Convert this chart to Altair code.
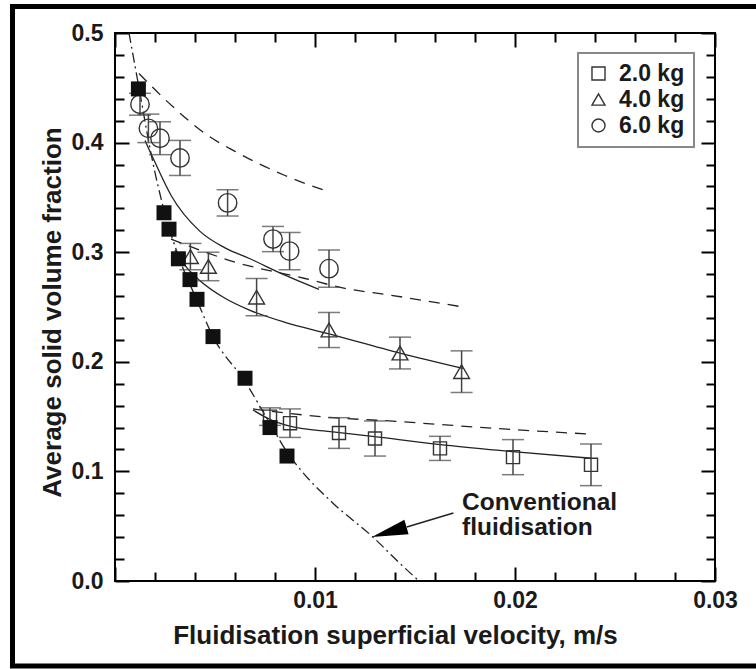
import altair as alt
import pandas as pd

# ---------------- data ----------------
series_names = ["2.0 kg", "4.0 kg", "6.0 kg"]

kg2_x = [0.00775, 0.00875, 0.0112, 0.0130, 0.01625, 0.0199, 0.0238]
kg2_y = [0.150, 0.144, 0.135, 0.130, 0.121, 0.113, 0.106]
kg2_e = [0.008, 0.013, 0.014, 0.016, 0.011, 0.016, 0.019]

kg4_x = [0.00377, 0.00467, 0.00708, 0.0107, 0.01425, 0.01733]
kg4_y = [0.296, 0.287, 0.259, 0.229, 0.208, 0.191]
kg4_e = [0.012, 0.013, 0.017, 0.016, 0.0145, 0.019]

kg6_x = [0.00125, 0.00167, 0.00225, 0.00325, 0.00563, 0.0079, 0.00873, 0.0107]
kg6_y = [0.435, 0.413, 0.404, 0.386, 0.345, 0.312, 0.301, 0.285]
kg6_e = [0.010, 0.013, 0.015, 0.016, 0.012, 0.0115, 0.017, 0.017]

conv_x = [0.00117, 0.00245, 0.0027, 0.00317, 0.00375, 0.0041, 0.0049, 0.0065, 0.00775, 0.0086]
conv_y = [0.449, 0.336, 0.321, 0.294, 0.275, 0.257, 0.223, 0.185, 0.140, 0.114]

conv_curve_x = [0.0007, 0.0012, 0.0018, 0.0025, 0.0032, 0.0041, 0.0049, 0.0065, 0.0078,
                0.0087, 0.0093, 0.0109, 0.0129, 0.01425, 0.0152]
conv_curve_y = [0.500, 0.450, 0.390, 0.335, 0.295, 0.256, 0.223, 0.182, 0.142,
                0.115, 0.101, 0.071, 0.040, 0.016, 0.0]

fit6_x = [0.0015, 0.0020, 0.0028, 0.00425, 0.0055, 0.00675, 0.0085, 0.0102]
fit6_y = [0.402, 0.382, 0.352, 0.319, 0.304, 0.294, 0.279, 0.266]
fit4_x = [0.0030, 0.0035, 0.00425, 0.0055, 0.00675, 0.0085, 0.0106, 0.01425, 0.0174]
fit4_y = [0.302, 0.288, 0.274, 0.258, 0.247, 0.236, 0.226, 0.208, 0.194]
fit2_x = [0.0069, 0.0078, 0.0088, 0.0109, 0.0133, 0.0165, 0.0199, 0.0238]
fit2_y = [0.156, 0.147, 0.141, 0.136, 0.131, 0.124, 0.118, 0.112]

model6_x = [0.0012, 0.0027, 0.0046, 0.0060, 0.0085, 0.0107]
model6_y = [0.463, 0.436, 0.407, 0.392, 0.370, 0.355]
model4_x = [0.0028, 0.0060, 0.0095, 0.0115, 0.0137, 0.0174]
model4_y = [0.312, 0.291, 0.276, 0.267, 0.261, 0.250]
model2_x = [0.0069, 0.0109, 0.0133, 0.0196, 0.0238]
model2_y = [0.157, 0.149, 0.1465, 0.1385, 0.134]

note_text = ["Conventional", "fluidisation"]
note_x = [0.01735, 0.01735]
note_y = [0.0646, 0.0417]
arrow_x = [0.01692]
arrow_x2 = [0.01459]
arrow_y = [0.0621]
arrow_y2 = [0.0493]
head_x = [0.01371]
head_y = [0.0447]

x_label_vals = [0.01, 0.02, 0.03]
y_label_vals = [0.0, 0.1, 0.2, 0.3, 0.4, 0.5]
x_major_vals = [0.0, 0.01, 0.02, 0.03]
x_minor_vals = [0.002, 0.004, 0.006, 0.008, 0.012, 0.014, 0.016, 0.018,
                0.022, 0.024, 0.026, 0.028]
y_major_vals = [0.0, 0.1, 0.2, 0.3, 0.4, 0.5]
y_minor_vals = [0.02, 0.04, 0.06, 0.08, 0.12, 0.14, 0.16, 0.18, 0.22, 0.24, 0.26, 0.28,
                0.32, 0.34, 0.36, 0.38, 0.42, 0.44, 0.46, 0.48]

x_title = "Fluidisation superficial velocity, m/s"
y_title = "Average solid volume fraction"

# ---------------- tables ----------------
pts = pd.concat([
    pd.DataFrame({"series": series_names[0], "x": kg2_x, "y": kg2_y, "e": kg2_e}),
    pd.DataFrame({"series": series_names[1], "x": kg4_x, "y": kg4_y, "e": kg4_e}),
    pd.DataFrame({"series": series_names[2], "x": kg6_x, "y": kg6_y, "e": kg6_e}),
], ignore_index=True)
conv = pd.DataFrame({"x": conv_x, "y": conv_y})
conv_curve = pd.DataFrame({"x": conv_curve_x, "y": conv_curve_y})
fits = pd.concat([
    pd.DataFrame({"curve": "fit6", "x": fit6_x, "y": fit6_y}),
    pd.DataFrame({"curve": "fit4", "x": fit4_x, "y": fit4_y}),
    pd.DataFrame({"curve": "fit2", "x": fit2_x, "y": fit2_y}),
], ignore_index=True)
models = pd.concat([
    pd.DataFrame({"curve": "m6", "x": model6_x, "y": model6_y}),
    pd.DataFrame({"curve": "m4", "x": model4_x, "y": model4_y}),
    pd.DataFrame({"curve": "m2", "x": model2_x, "y": model2_y}),
], ignore_index=True)
note = pd.DataFrame({"t": note_text, "x": note_x, "y": note_y})
arrow = pd.DataFrame({"x": arrow_x, "x2": arrow_x2, "y": arrow_y, "y2": arrow_y2})
head = pd.DataFrame({"x": head_x, "y": head_y})

# ---------------- styling ----------------
W, H = 600, 548
FONT = "Liberation Sans"
TXT = "#1a1a1a"
xs = alt.Scale(domain=[0, 0.03], nice=False, zero=False)
ys = alt.Scale(domain=[0, 0.5], nice=False, zero=False)

x_label_axis = alt.Axis(orient="bottom", values=x_label_vals, format=".2f", ticks=False, tickSize=0,
                        domain=False, grid=False, labelFlush=False, labelOverlap=False,
                        labelFont=FONT, labelFontSize=23, labelFontWeight="bold", labelColor=TXT,
                        labelPadding=8, title=x_title, titleFont=FONT, titleFontSize=26,
                        titleFontWeight="bold", titleColor=TXT, titlePadding=10, titleX=280)
y_label_axis = alt.Axis(orient="left", values=y_label_vals, format=".1f", ticks=False, tickSize=0,
                        domain=False, grid=False, labelOverlap=False,
                        labelFont=FONT, labelFontSize=23, labelFontWeight="bold", labelColor=TXT,
                        labelPadding=12, title=y_title, titleFont=FONT, titleFontSize=26,
                        titleFontWeight="bold", titleColor=TXT, titlePadding=6, titleY=279)


def tick_axis(orient, vals, length):
    # tick-only axis; a negative tick length (given as an expression) points the ticks inward
    return alt.Axis(orient=orient, values=vals, labels=False, domain=False, grid=False,
                    title=None, ticks=True, tickColor="black", tickWidth=2,
                    tickSize={"expr": str(-length)})


MAJ, MIN = 14, 9
ax_bottom_major = tick_axis("bottom", x_major_vals, MAJ)
ax_bottom_minor = tick_axis("bottom", x_minor_vals, MIN)
ax_top_major = tick_axis("top", x_major_vals, MAJ)
ax_top_minor = tick_axis("top", x_minor_vals, MIN)
ax_left_major = tick_axis("left", y_major_vals, MAJ)
ax_left_minor = tick_axis("left", y_minor_vals, MIN)
ax_right_major = tick_axis("right", y_major_vals, MAJ)
ax_right_minor = tick_axis("right", y_minor_vals, MIN)


def X(field="x", axis=None):
    return alt.X(field, type="quantitative", scale=xs, axis=axis)


def Y(field="y", axis=None):
    return alt.Y(field, type="quantitative", scale=ys, axis=axis)


# outer figure frame (decoration)
frame = alt.Chart(pd.DataFrame({"k": [0]})).mark_rect(
    fill="white", fillOpacity=0, stroke="black", strokeWidth=5
).encode(x=alt.value(-102.5), x2=alt.value(660), y=alt.value(-26.5), y2=alt.value(633))

conv_line = alt.Chart(conv_curve).mark_line(
    color="#222", strokeWidth=1.3, strokeDash=[10, 4, 2, 4], interpolate="monotone"
).encode(x=X("x", ax_bottom_major), y=Y("y", ax_left_major))

fit_lines = alt.Chart(fits).mark_line(color="#222", strokeWidth=1.3, interpolate="monotone").encode(
    x=X("x", ax_bottom_minor), y=Y("y", ax_left_minor), detail="curve:N")

model_lines = alt.Chart(models).mark_line(
    color="#222", strokeWidth=1.3, strokeDash=[11, 8], interpolate="monotone"
).encode(x=X("x", ax_top_major), y=Y("y", ax_right_major), detail="curve:N")

err_base = alt.Chart(pts).transform_calculate(lo="datum.y - datum.e", hi="datum.y + datum.e")
err_rule = err_base.mark_rule(color="#444", strokeWidth=1.5).encode(x=X(), y=Y("lo"), y2="hi:Q")
err_lo = err_base.mark_tick(orient="horizontal", size=22, thickness=1.5, color="#444").encode(
    x=X(), y=Y("lo"))
err_hi = err_base.mark_tick(orient="horizontal", size=22, thickness=1.5, color="#444").encode(
    x=X(), y=Y("hi"))

points = alt.Chart(pts).transform_calculate(
    sz="datum.series == '6.0 kg' ? 340 : (datum.series == '4.0 kg' ? 250 : 170)"
).mark_point(filled=False, color="#333", strokeWidth=1.4, opacity=1).encode(
    x=X("x", x_label_axis),
    y=Y("y", y_label_axis),
    shape=alt.Shape("series:N",
                    scale=alt.Scale(domain=series_names, range=["square", "triangle-up", "circle"]),
                    legend=alt.Legend(orient="none", legendX=463, legendY=20, title=None,
                                      direction="vertical", labelFont=FONT, labelFontSize=23,
                                      labelFontWeight="bold", labelColor=TXT, labelOffset=9,
                                      symbolSize=170, symbolStrokeColor="#333",
                                      symbolStrokeWidth=1.4, padding=9, rowPadding=2,
                                      strokeColor="#888", fillColor="white")),
    size=alt.Size("sz:Q", scale=None),
)

conv_pts = alt.Chart(conv).mark_point(shape="square", filled=True, color="#111", size=225,
                                      opacity=1).encode(
    x=X("x", ax_top_minor), y=Y("y", ax_right_minor))

note_text_mark = alt.Chart(note).mark_text(
    align="left", baseline="alphabetic", font=FONT, fontSize=24.5, fontWeight="bold", color=TXT
).encode(x=X(), y=Y(), text="t:N")

arrow_line = alt.Chart(arrow).mark_rule(color="#222", strokeWidth=1.5).encode(
    x=X(), x2="x2:Q", y=Y(), y2="y2:Q")

arrow_head = alt.Chart(head).mark_point(
    shape="M0,-1L0.42,1L-0.42,1Z", filled=True, color="black", size=1296, angle=254, opacity=1
).encode(x=X(), y=Y())

chart = alt.layer(
    frame, conv_line, fit_lines, model_lines, err_rule, err_lo, err_hi, points, conv_pts,
    arrow_line, arrow_head, note_text_mark
).resolve_axis(
    x="independent", y="independent"
).properties(
    width=W, height=H,
    padding={"left": 115, "top": 33, "right": 41, "bottom": 88},
    autosize=alt.AutoSizeParams(type="none"),
    background="white",
).configure_view(
    stroke="black", strokeWidth=2
).configure_legend(
    strokeWidth=2
)

chart.save("out.html", embed_options={"renderer": "svg", "actions": False})
